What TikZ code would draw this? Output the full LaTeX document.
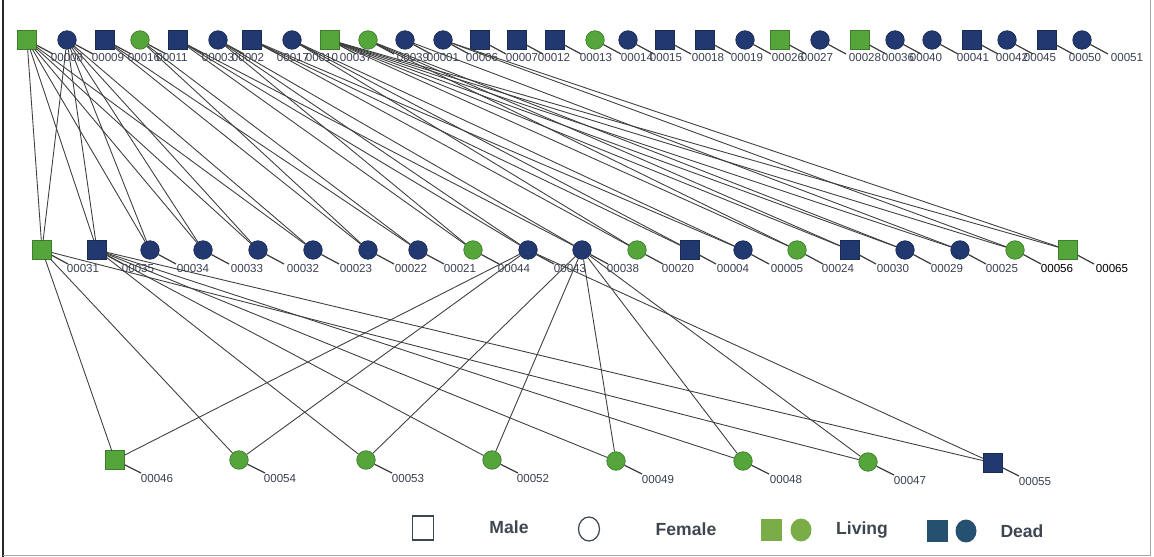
\documentclass[tikz,border=0pt]{standalone}
\usepackage{fontspec}
\setmainfont{Liberation Sans}
\usetikzlibrary{shapes.geometric, positioning}

\definecolor{vivo}{RGB}{84,166,58}
\definecolor{muerto}{RGB}{33,56,112}
\definecolor{vivoley}{RGB}{122,172,72}
\definecolor{muertoley}{RGB}{37,80,112}
\definecolor{textoid}{RGB}{58,64,82}
\definecolor{textoley}{RGB}{62,70,80}
\definecolor{linea}{RGB}{62,62,62}

\tikzset{
  male/.style={rectangle, minimum size=0.37cm, inner sep=0pt},
  female/.style={circle, minimum size=0.37cm, inner sep=0pt},
  living/.style={fill=vivo, draw=vivo!75!black, line width=0.4pt},
  dead/.style={fill=muerto, draw=muerto!75!black, line width=0.4pt},
  idlabel/.style={font=\fontsize{6.6}{7}\selectfont, text=textoid, inner sep=0pt},
  link/.style={draw=linea, line width=0.5pt},
  stub/.style={draw=linea, line width=0.7pt},
  legtext/.style={font=\fontsize{10}{12}\selectfont\bfseries, text=textoley, inner sep=0pt},
}

\begin{document}
\begin{tikzpicture}[x=0.02cm, y=-0.02cm]
    \useasboundingbox (0,0) rectangle (1154,557);
    % Marco
    \draw[black!85, line width=1pt] (3,0) -- (3,557);
    \draw[black!35, line width=0.5pt] (3,555) -- (1150,555) -- (1150,0);

    % Fila superior
    \foreach \x/\s/\c/\n/\lx [count=\i] in {
        27/male/living/00008/67, 67/female/dead/00009/108, 105/male/dead/00016/144,
        140/female/living/00011/172, 178/male/dead/00003/218, 218/female/dead/00002/248,
        252/male/dead/00017/293, 292/female/dead/00010/322, 330/male/living/00037/356,
        368/female/living/00039/413, 405/female/dead/00001/443, 443/female/dead/00006/482,
        480/male/dead/00007/522, 517/male/dead/00012/554, 555/male/dead/00013/596,
        595/female/living/00014/637, 628/female/dead/00015/666, 665/male/dead/00018/708,
        705/male/dead/00019/747, 745/female/dead/00026/788, 780/male/living/00027/817,
        820/female/dead/00028/865, 860/male/living/00036/898, 895/female/dead/00040/926,
        932/female/dead/00041/973, 972/male/dead/00042/1012, 1007/female/dead/00045/1040,
        1047/male/dead/00050/1085, 1082/female/dead/00051/1127}{
        \node[\s, \c] (t\i) at (\x,40) {};
        \coordinate (t\i-e) at ({\x+26},54);
        \draw[stub] (t\i) -- (t\i-e);
        \node[idlabel] (t\i-l) at (\lx,58) {\n};
    }

    % Fila del medio
    \foreach \x/\s/\c/\n/\lx/\tc [count=\i] in {
        42/male/living/00031/83/textoid, 97/male/dead/00035/138/textoid,
        150/female/dead/00034/193/textoid, 203/female/dead/00033/247/textoid,
        258/female/dead/00032/303/textoid, 313/female/dead/00023/356/textoid,
        368/female/dead/00022/411/textoid, 418/female/dead/00021/460/textoid,
        473/female/living/00044/514/textoid, 528/female/dead/00043/570/textoid,
        582/female/dead/00038/623/textoid, 637/female/living/00020/678/textoid,
        690/male/dead/00004/733/textoid, 743/female/dead/00005/787/textoid,
        797/female/living/00024/838/textoid, 850/male/dead/00030/893/textoid,
        905/female/dead/00029/947/textoid, 960/female/dead/00025/1002/textoid,
        1015/female/living/00056/1057/black, 1068/male/living/00065/1112/black}{
        \node[\s, \c] (m\i) at (\x,250) {};
        \coordinate (m\i-e) at ({\x+26},264);
        \draw[stub] (m\i) -- (m\i-e);
        \node[idlabel, text=\tc] (m\i-l) at (\lx,269) {\n};
    }

    % Fila inferior
    \foreach \x/\y/\s/\c/\n/\lx [count=\i] in {
        115/460/male/living/00046/157, 239/460/female/living/00054/280,
        366/460/female/living/00053/408, 492/460/female/living/00052/533,
        616/461/female/living/00049/658, 743/461/female/living/00048/786,
        868/462/female/living/00047/910, 993/463/male/dead/00055/1035}{
        \node[\s, \c] (b\i) at (\x,\y) {};
        \coordinate (b\i-e) at ({\x+26},{\y+13});
        \draw[stub] (b\i) -- (b\i-e);
        \node[idlabel] (b\i-l) at (\lx,{\y+19}) {\n};
    }

    % Padres -> hijos
    \foreach \a/\b in {t1/m1, t2/m1, t1/m2, t2/m2, t1/m3, t2/m3, t1/m4, t2/m4,
        t1/m5, t2/m5, t1/m6, t2/m6, t3/m7, t4/m7, t3/m8, t4/m8,
        t5/m9, t6/m9, t5/m10, t6/m10, t5/m11, t6/m11,
        t7/m12, t8/m12, t7/m13, t8/m13, t7/m14, t8/m14,
        t9/m15, t10/m15, t9/m16, t10/m16, t9/m17, t10/m17,
        t9/m18, t11/m18, t9/m19, t12/m19, t9/m20, t12/m20}
        \draw[link] (\a) -- (\b);
    \foreach \a/\b in {m1/b1, m10/b1, m1/b2, m10/b2, m2/b3, m11/b3,
        m2/b4, m11/b4, m2/b5, m11/b5, m2/b6, m11/b6,
        m1/b7, m11/b7, m2/b8, m10/b8}
        \draw[link] (\a) -- (\b);

    % Leyenda
    \node[male, draw=textoley, fill=white, line width=0.7pt, minimum width=0.42cm, minimum height=0.48cm] (lg-male) at (423,528) {};
    \node[legtext] (lg-male-t) at (509,527) {Male};
    \node[ellipse, draw=textoley, line width=0.7pt, inner sep=0pt, minimum width=0.42cm, minimum height=0.48cm] (lg-female) at (589,529) {};
    \node[legtext] (lg-female-t) at (686,529) {Female};
    \node[rectangle, fill=vivoley, minimum width=0.42cm, minimum height=0.46cm] (lg-live-m) at (771,530) {};
    \node[ellipse, fill=vivoley, inner sep=0pt, minimum width=0.42cm, minimum height=0.46cm] (lg-live-f) at (801,530) {};
    \node[legtext] (lg-live-t) at (862,530) {Living};
    \node[rectangle, fill=muertoley, minimum width=0.42cm, minimum height=0.46cm] (lg-dead-m) at (937,531) {};
    \node[ellipse, fill=muertoley, inner sep=0pt, minimum width=0.42cm, minimum height=0.46cm] (lg-dead-f) at (966,531) {};
    \node[legtext] (lg-dead-t) at (1022,531) {Dead};
\end{tikzpicture}
\end{document}
